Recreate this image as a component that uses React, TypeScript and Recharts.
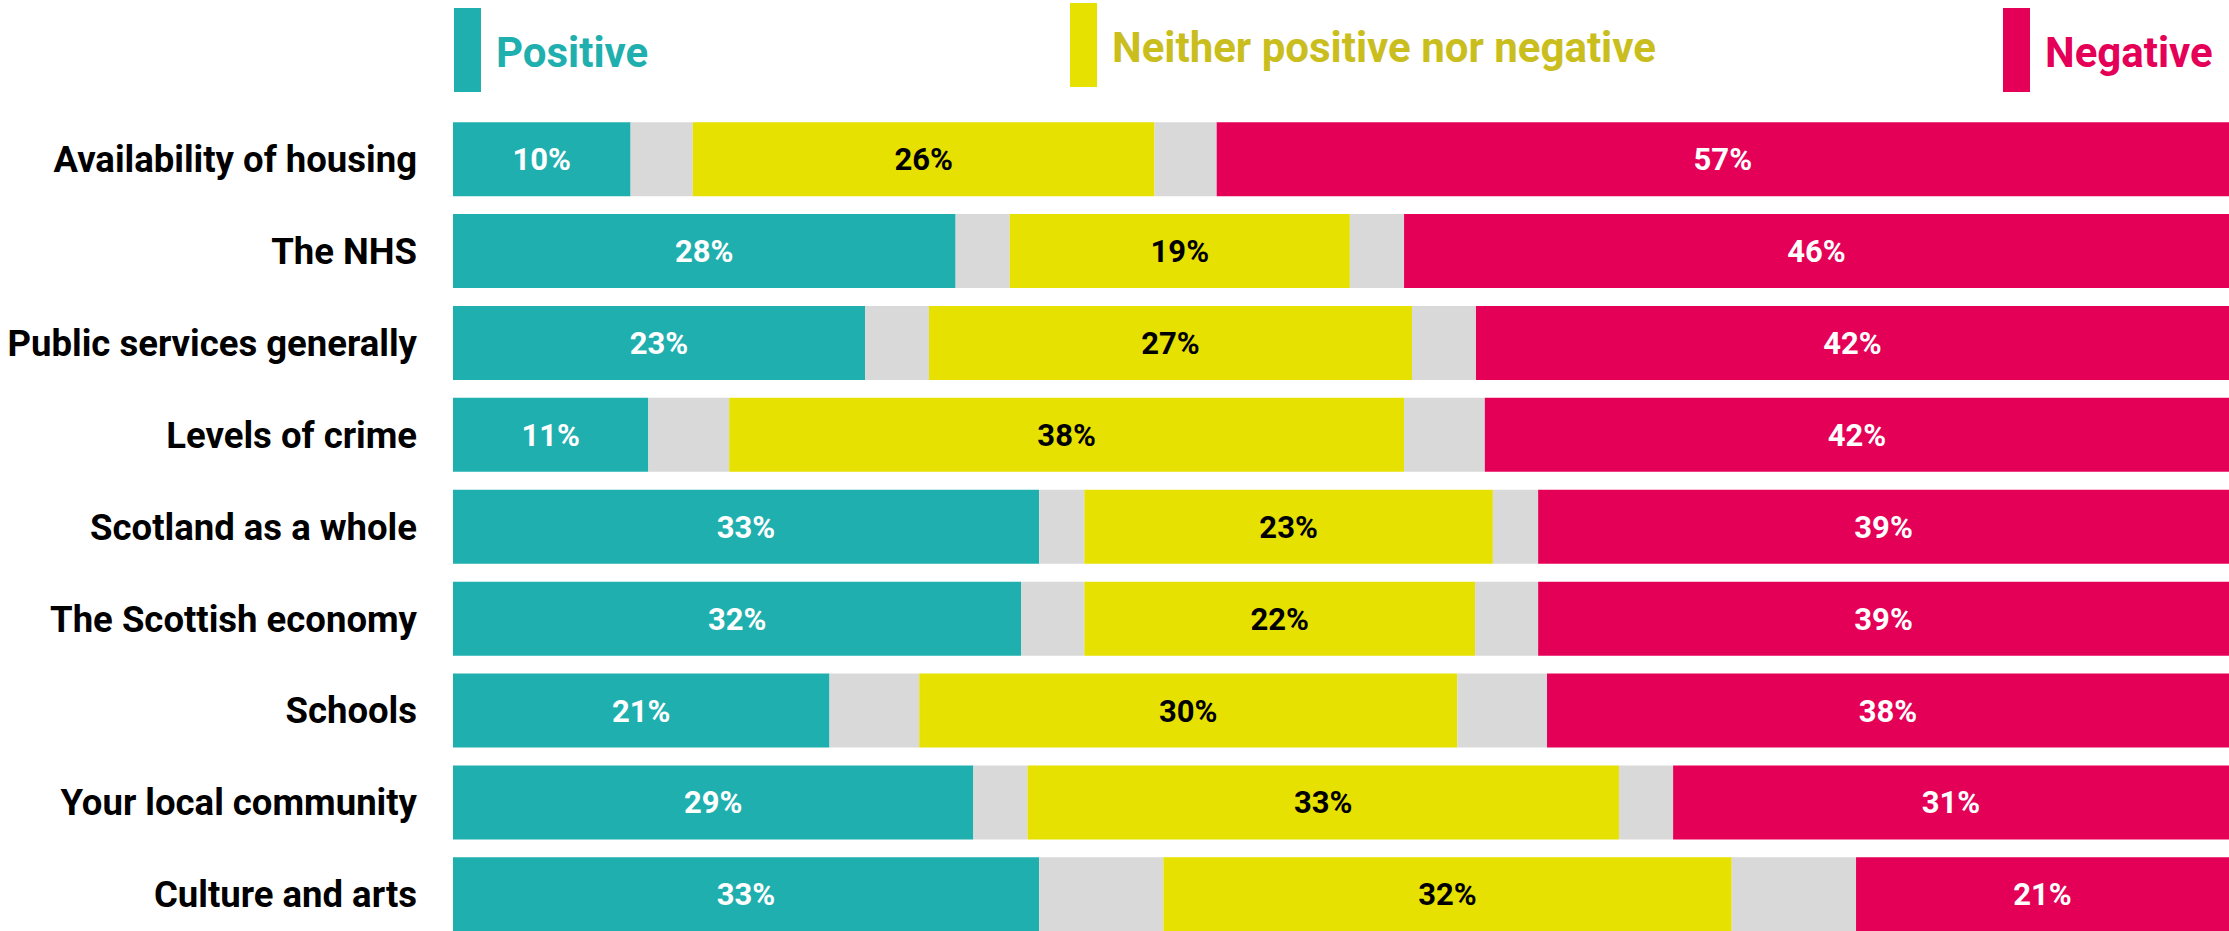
import React from 'react';
import { BarChart, Bar, XAxis, YAxis, LabelList, Legend } from 'recharts';

const categories = [
  'Availability of housing',
  'The NHS',
  'Public services generally',
  'Levels of crime',
  'Scotland as a whole',
  'The Scottish economy',
  'Schools',
  'Your local community',
  'Culture and arts',
];
const positive = [10, 28.3, 23.2, 11, 33, 32, 21.2, 29.3, 33];
const gapBefore = [3.5, 3.05, 3.6, 4.55, 2.55, 3.55, 5.05, 3.05, 7];
const neither = [26, 19.15, 27.2, 38, 23, 22, 30.3, 33.3, 32];
const gapAfter = [3.5, 3.05, 3.6, 4.55, 2.55, 3.55, 5.05, 3.05, 7];
const negative = [57, 46.45, 42.4, 41.9, 38.9, 38.9, 38.4, 31.3, 21];

const seriesNames = ['Positive', 'Neither positive nor negative', 'Negative'];

const data = categories.map((name, i) => ({
  name,
  positive: positive[i],
  gapBefore: gapBefore[i],
  neither: neither[i],
  gapAfter: gapAfter[i],
  negative: negative[i],
}));

const FONT = "Roboto, 'Noto Sans', sans-serif";
const TEAL = '#1FAFAE';
const YELLOW = '#E6E100';
const PINK = '#E50057';
const GRAY = '#D9D9D9';

// legend layout (position/style only), in the order of seriesNames
const legendLayout = [
  { x: 454, y: 8, text: TEAL },
  { x: 1070, y: 3, text: '#C9BE1E' },
  { x: 2003, y: 8, text: PINK },
];

const LegendContent = (props: any) => {
  const items = (props.payload || []).filter(
    (p: any) => p.type !== 'none' && seriesNames.indexOf(p.value) >= 0
  );
  return (
    <svg width={2229} height={100} style={{ display: 'block' }}>
      {items.map((it: any) => {
        const idx = seriesNames.indexOf(it.value);
        const l = legendLayout[idx];
        if (!l) return null;
        return (
          <g key={it.value}>
            <rect x={l.x} y={l.y} width={27} height={84} fill={it.color} />
            <text
              x={l.x + 42}
              y={l.y + 59}
              fill={l.text}
              fontFamily={FONT}
              fontWeight={700}
              fontSize={42}
            >
              {it.value}
            </text>
          </g>
        );
      })}
    </svg>
  );
};

const CategoryTick = (props: any) => {
  const { x, y, payload } = props;
  return (
    <text
      x={x}
      y={y}
      dy="0.36em"
      textAnchor="end"
      fill="#000"
      fontFamily={FONT}
      fontWeight={700}
      fontSize={36.5}
    >
      {payload.value}
    </text>
  );
};

const fmt = (v: any) => `${Math.round(Number(v))}%`;
const labelStyle = { fontFamily: FONT, fontWeight: 700, fontSize: 31 } as const;

export default function App() {
  return (
    <div
      style={{
        position: 'absolute',
        left: 0,
        top: 0,
        width: 2229,
        height: 931,
        overflow: 'hidden',
        background: '#fff',
      }}
    >
      <BarChart
        width={2229}
        height={940}
        data={data}
        layout="vertical"
        margin={{ top: 113, right: 0, bottom: 0, left: 0 }}
        barCategoryGap="10%"
      >
        <XAxis type="number" domain={[0, 100]} hide allowDataOverflow />
        <YAxis
          type="category"
          dataKey="name"
          width={453}
          axisLine={false}
          tickLine={false}
          tickSize={0}
          tickMargin={36}
          tick={<CategoryTick />}
          interval={0}
        />
        <Legend
          layout="horizontal"
          verticalAlign="middle"
          align="center"
          content={<LegendContent />}
          wrapperStyle={{ position: 'absolute', top: 0, left: 0, width: 2229, height: 100 }}
        />
        <Bar dataKey="positive" name={seriesNames[0]} stackId="s" fill={TEAL} isAnimationActive={false}>
          <LabelList dataKey="positive" position="center" formatter={fmt} fill="#FFFFFF" style={labelStyle} />
        </Bar>
        <Bar dataKey="gapBefore" stackId="s" fill={GRAY} legendType="none" isAnimationActive={false} />
        <Bar dataKey="neither" name={seriesNames[1]} stackId="s" fill={YELLOW} isAnimationActive={false}>
          <LabelList dataKey="neither" position="center" formatter={fmt} fill="#000000" style={labelStyle} />
        </Bar>
        <Bar dataKey="gapAfter" stackId="s" fill={GRAY} legendType="none" isAnimationActive={false} />
        <Bar dataKey="negative" name={seriesNames[2]} stackId="s" fill={PINK} isAnimationActive={false}>
          <LabelList dataKey="negative" position="center" formatter={fmt} fill="#FFFFFF" style={labelStyle} />
        </Bar>
      </BarChart>
    </div>
  );
}
